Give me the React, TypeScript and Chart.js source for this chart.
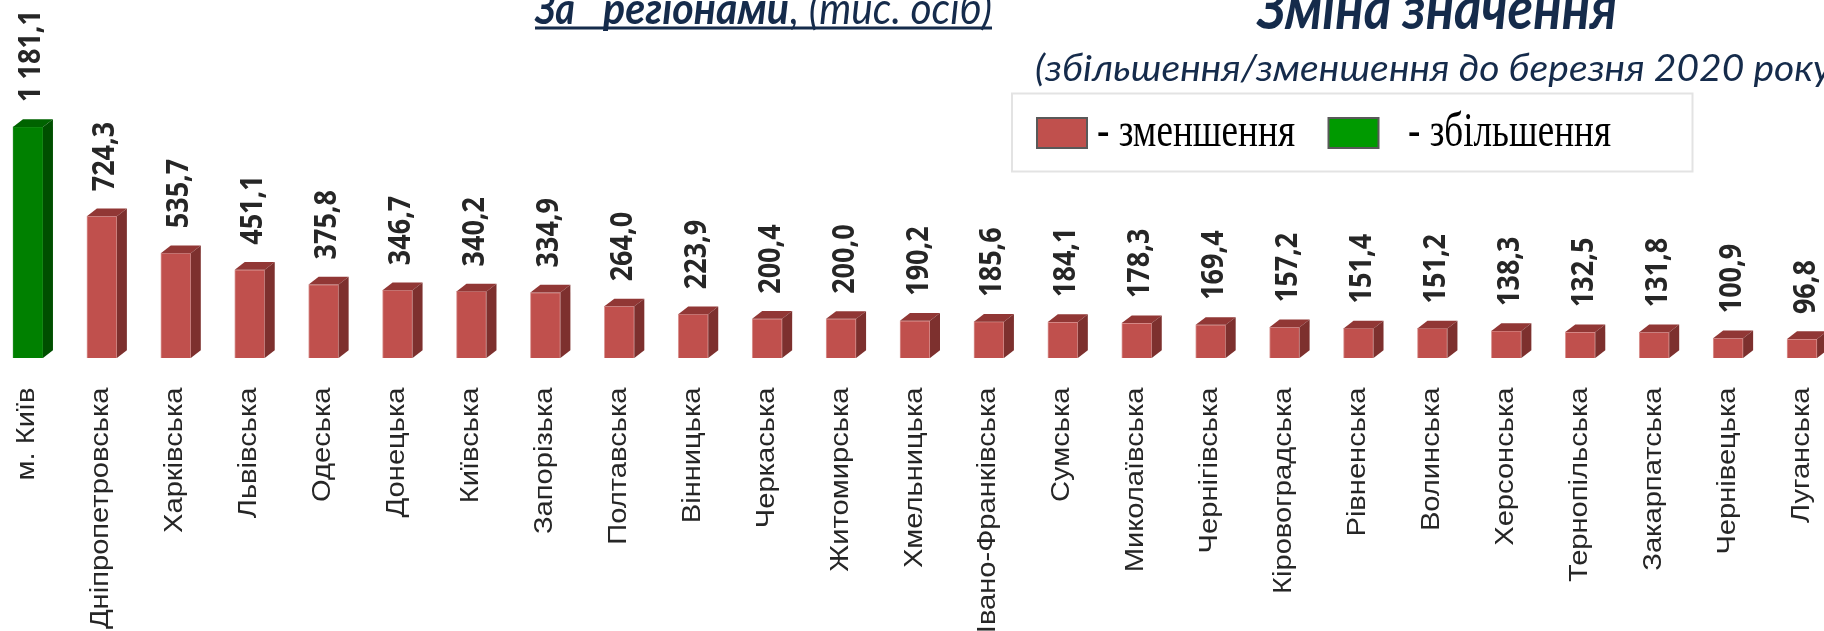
import React, { useEffect, useRef } from "react";
import { Chart, registerables } from "chart.js";

Chart.register(...registerables);

// ---------- data ----------
const regions: string[] = [
  "м. Київ",
  "Дніпропетровська",
  "Харківська",
  "Львівська",
  "Одеська",
  "Донецька",
  "Київська",
  "Запорізька",
  "Полтавська",
  "Вінницька",
  "Черкаська",
  "Житомирська",
  "Хмельницька",
  "Івано-Франківська",
  "Сумська",
  "Миколаївська",
  "Чернігівська",
  "Кіровоградська",
  "Рівненська",
  "Волинська",
  "Херсонська",
  "Тернопільська",
  "Закарпатська",
  "Чернівецька",
  "Луганська",
];

const values: number[] = [
  1181.1, 724.3, 535.7, 451.1, 375.8, 346.7, 340.2, 334.9, 264.0, 223.9, 200.4,
  200.0, 190.2, 185.6, 184.1, 178.3, 169.4, 157.2, 151.4, 151.2, 138.3, 132.5,
  131.8, 100.9, 96.8,
];

const directions: ("increase" | "decrease")[] = [
  "increase",
  "decrease", "decrease", "decrease", "decrease", "decrease", "decrease",
  "decrease", "decrease", "decrease", "decrease", "decrease", "decrease",
  "decrease", "decrease", "decrease", "decrease", "decrease", "decrease",
  "decrease", "decrease", "decrease", "decrease", "decrease", "decrease",
];

const titleBoldParts: string[] = ["За", "регіонами"];
const titleRest = ", (тис. осіб)";
const sideTitle = "Зміна значення";
const sideSubtitle = "(збільшення/зменшення до березня 2020 року)";
const legendDecrease = "- зменшення";
const legendIncrease = "- збільшення";

// ---------- styles ----------
const palette = {
  increase: { front: "#008000", side: "#004f00", top: "#006300", edge: "#1f8f1f", legend: "#009a00" },
  decrease: { front: "#C0504D", side: "#7D302E", top: "#913735", edge: "#dc9a98", legend: "#C0504D" },
};
const NAVY = "#152B4B";
const CANVAS_W = 1848;
const CANVAS_H = 631;
const SHIFT = 9; // canvas is placed 9px left of the viewport edge
const DEPTH_X = 10;
const DEPTH_Y = 7.7;

const fmt = (v: number) => {
  const [i, d] = v.toFixed(1).split(".");
  return i.replace(/\B(?=(\d{3})+(?!\d))/g, " ") + "," + d;
};

function fitText(
  ctx: CanvasRenderingContext2D,
  text: string,
  x: number,
  y: number,
  width: number,
  measureText?: string
) {
  const w = ctx.measureText(measureText ?? text).width;
  const sx = width / w;
  ctx.save();
  ctx.translate(x, y);
  ctx.scale(sx, 1);
  ctx.textAlign = "left";
  ctx.textBaseline = "alphabetic";
  ctx.fillText(text, 0, 0);
  ctx.restore();
}

const decorPlugin = {
  id: "decor3d",
  afterDatasetsDraw(chart: any) {
    const ctx: CanvasRenderingContext2D = chart.ctx;
    const meta = chart.getDatasetMeta(0);
    const bottom = chart.chartArea.bottom;
    meta.data.forEach((bar: any, i: number) => {
      const { x, y, base, width } = bar.getProps(["x", "y", "base", "width"], true);
      const left = x - width / 2;
      const right = x + width / 2;
      const c = palette[directions[i]];
      ctx.save();
      // top face
      ctx.fillStyle = c.top;
      ctx.beginPath();
      ctx.moveTo(left, y);
      ctx.lineTo(left + DEPTH_X, y - DEPTH_Y);
      ctx.lineTo(right + DEPTH_X, y - DEPTH_Y);
      ctx.lineTo(right, y);
      ctx.closePath();
      ctx.fill();
      // side face
      ctx.fillStyle = c.side;
      ctx.beginPath();
      ctx.moveTo(right, y);
      ctx.lineTo(right + DEPTH_X, y - DEPTH_Y);
      ctx.lineTo(right + DEPTH_X, base - DEPTH_Y);
      ctx.lineTo(right, base);
      ctx.closePath();
      ctx.fill();
      ctx.restore();

      // value label (rotated)
      ctx.save();
      ctx.translate(x + 12.5, y - 25);
      ctx.rotate(-Math.PI / 2);
      ctx.scale(1, 1.15);
      ctx.font = "bold 27px 'Open Sans'";
      ctx.fillStyle = "#262626";
      ctx.textAlign = "left";
      ctx.textBaseline = "alphabetic";
      ctx.fillText(fmt(values[i]), 0, 0);
      ctx.restore();

      // category label (rotated)
      ctx.save();
      ctx.translate(x + 6.5, bottom + 29.5);
      ctx.rotate(-Math.PI / 2);
      ctx.scale(1.12, 1);
      ctx.font = "26px 'Liberation Sans'";
      ctx.fillStyle = "#262626";
      ctx.textAlign = "right";
      ctx.textBaseline = "alphabetic";
      ctx.fillText(regions[i], 0, 0);
      ctx.restore();
    });
  },
  afterDraw(chart: any) {
    const ctx: CanvasRenderingContext2D = chart.ctx;
    ctx.save();
    ctx.translate(SHIFT, 0);

    // main title
    ctx.fillStyle = NAVY;
    ctx.font = "italic bold 44px Lato";
    fitText(ctx, titleBoldParts[0], 535, 23.5, 40);
    fitText(ctx, titleBoldParts[1], 603, 23.5, 186);
    ctx.font = "italic 44px Lato";
    fitText(ctx, titleRest, 790, 23.5, 202);
    ctx.fillRect(535, 26.5, 457, 3);

    // right title
    ctx.font = "italic bold 60px Lato";
    fitText(ctx, sideTitle, 1257, 29, 360);
    ctx.font = "italic 36px Lato";
    fitText(ctx, sideSubtitle, 1035, 80.5, 778, sideSubtitle.slice(0, sideSubtitle.length - 2));

    // legend box
    ctx.fillStyle = "#ffffff";
    ctx.fillRect(1012, 93.5, 680.5, 78);
    ctx.strokeStyle = "#e3e3e3";
    ctx.lineWidth = 2;
    ctx.strokeRect(1012, 93.5, 680.5, 78);

    ctx.lineWidth = 2;
    ctx.strokeStyle = "#595959";
    ctx.fillStyle = palette.decrease.legend;
    ctx.fillRect(1037, 118, 50, 30);
    ctx.strokeRect(1037, 118, 50, 30);
    ctx.fillStyle = palette.increase.legend;
    ctx.fillRect(1328.5, 118, 50, 30);
    ctx.strokeRect(1328.5, 118, 50, 30);

    ctx.fillStyle = "#000000";
    ctx.font = "49px 'Liberation Serif'";
    fitText(ctx, legendDecrease, 1097, 146, 198);
    fitText(ctx, legendIncrease, 1408, 146, 203);

    ctx.restore();
  },
};

export default function App() {
  const canvasRef = useRef<HTMLCanvasElement | null>(null);

  useEffect(() => {
    const canvas = canvasRef.current;
    if (!canvas) return;
    const chart = new Chart(canvas, {
      type: "bar",
      data: {
        labels: regions,
        datasets: [
          {
            label: "Зміна значення",
            data: values,
            backgroundColor: directions.map((d) => palette[d].front),
            borderColor: directions.map((d) => palette[d].edge),
            borderWidth: 1,
            barThickness: 30,
          },
        ],
      },
      options: {
        responsive: false,
        maintainAspectRatio: false,
        animation: false,
        devicePixelRatio: 1,
        layout: { padding: { left: 0, right: 0, top: 0, bottom: 273 } },
        plugins: {
          legend: { display: false },
          tooltip: { enabled: false },
          title: { display: false },
        },
        scales: {
          x: { display: false, offset: true },
          y: { display: false, min: 0, max: 1830 },
        },
      },
      plugins: [decorPlugin],
    });
    return () => chart.destroy();
  }, []);

  return (
    <div
      style={{
        position: "fixed",
        left: 0,
        top: 0,
        width: 1824,
        height: 631,
        overflow: "hidden",
        background: "#ffffff",
      }}
    >
      <canvas
        ref={canvasRef}
        width={CANVAS_W}
        height={CANVAS_H}
        style={{ position: "absolute", left: -SHIFT, top: 0, width: CANVAS_W, height: CANVAS_H }}
      />
    </div>
  );
}
